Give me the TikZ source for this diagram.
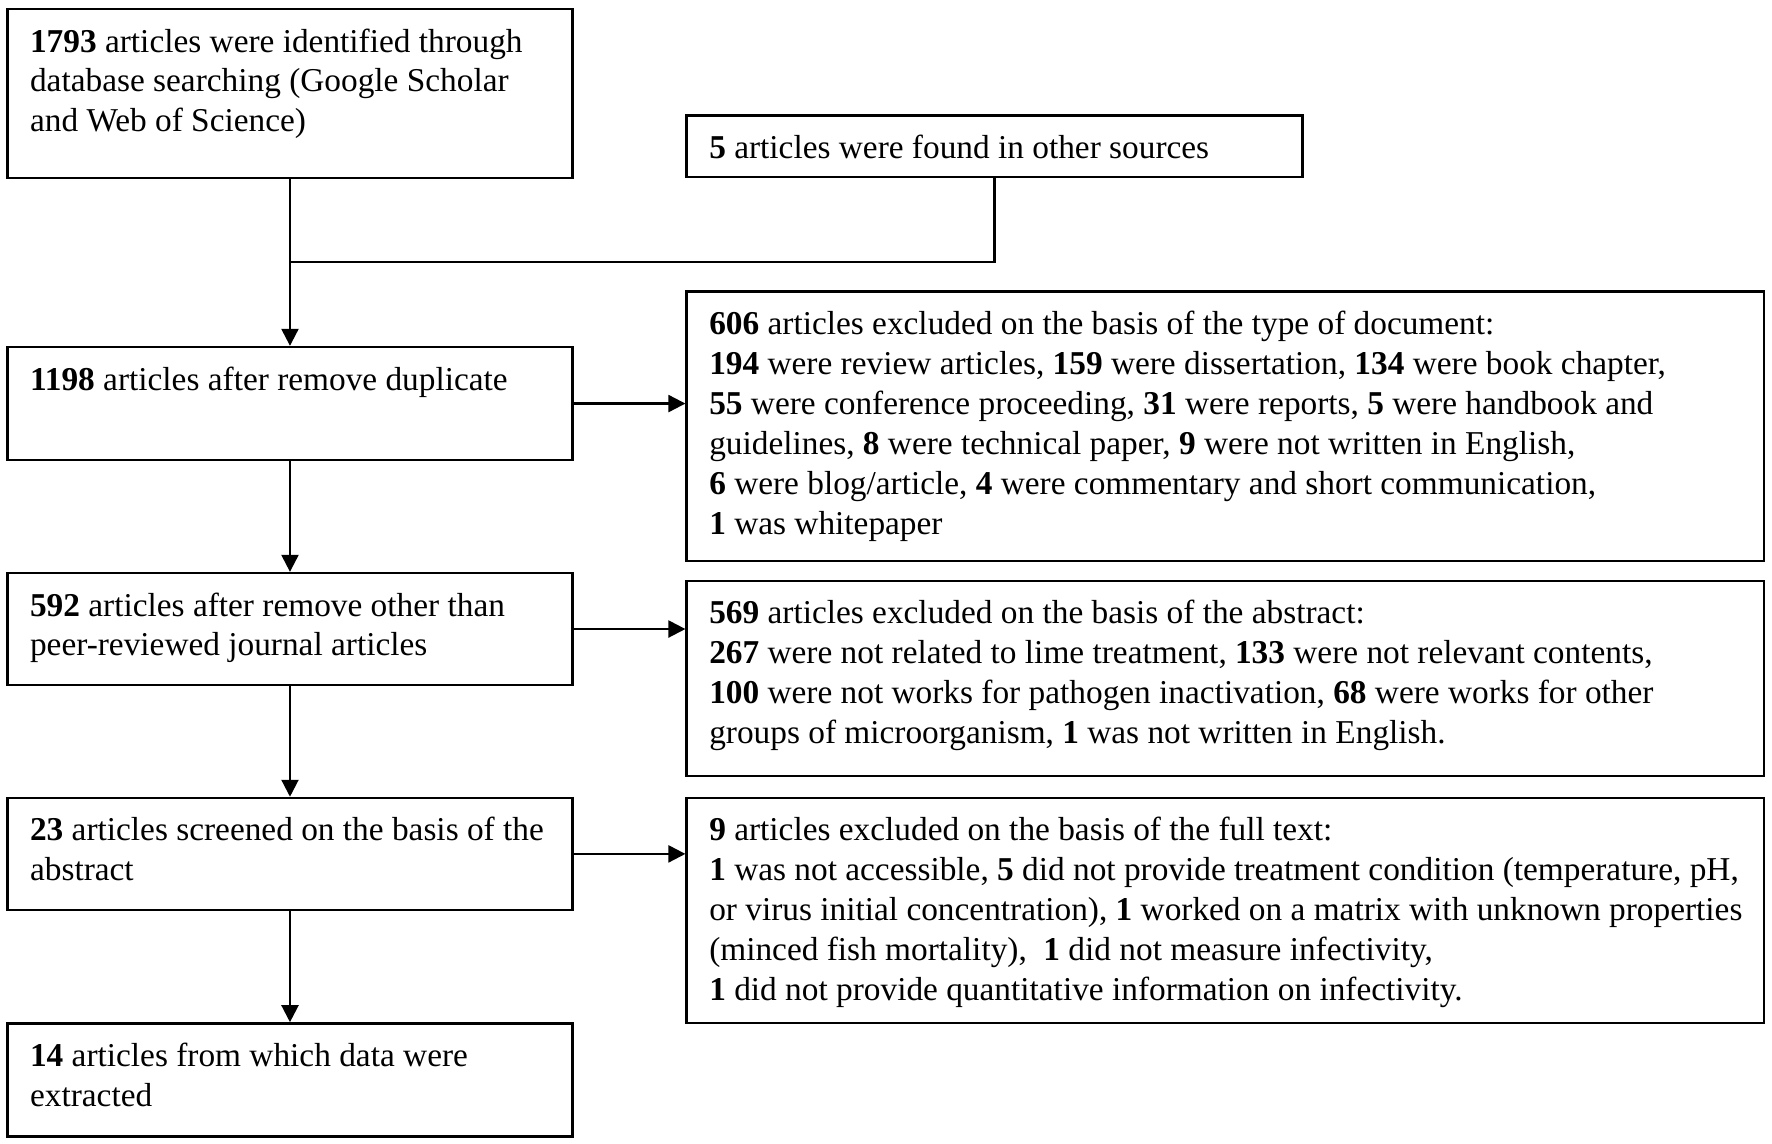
\documentclass[tikz,border=0pt]{standalone}
\usepackage{fontspec}
\setmainfont{Liberation Serif}
\usetikzlibrary{arrows.meta}
\tikzset{
  flowbox/.style={draw, line width=2.2pt, inner xsep=20pt, inner ysep=0pt,
    anchor=north west, font=\fontsize{29.5pt}{35.3pt}\selectfont},
  conn/.style={line width=2pt},
  arr/.style={conn, -{Triangle[length=15pt,width=15pt]}}
}
\newcommand{\btext}[3]{\parbox[c][#2][t]{#1}{\raggedright\hfuzz=200pt\rule{0pt}{38pt}#3}}
\begin{document}
\begin{tikzpicture}[x=1pt,y=-1pt]
\useasboundingbox (0,0) rectangle (1568,1012);
% left column
\node[flowbox] (a) at (5.5,7) {\btext{460pt}{149.5pt}{%
\mbox{\textbf{1793} articles were identified through}\\
\mbox{database searching (Google Scholar}\\
\mbox{and Web of Science)}}};
\node[flowbox] (b) at (606.5,101) {\btext{505pt}{54.5pt}{%
\mbox{\textbf{5} articles were found in other sources}}};
\node[flowbox] (c) at (5.5,306) {\btext{460pt}{100pt}{%
\mbox{\textbf{1198} articles after remove duplicate}}};
\node[flowbox] (d) at (606.5,257) {\btext{913.5pt}{238.5pt}{%
\mbox{\textbf{606} articles excluded on the basis of the type of document:}\\
\mbox{\textbf{194} were review articles, \textbf{159} were dissertation, \textbf{134} were book chapter,}\\
\mbox{\textbf{55} were conference proceeding, \textbf{31} were reports, \textbf{5} were handbook and}\\
\mbox{guidelines, \textbf{8} were technical paper, \textbf{9} were not written in English,}\\
\mbox{\textbf{6} were blog/article, \textbf{4} were commentary and short communication,}\\
\mbox{\textbf{1} was whitepaper}}};
\node[flowbox] (e) at (5.5,506) {\btext{460pt}{99pt}{%
\mbox{\textbf{592} articles after remove other than}\\
\mbox{peer-reviewed journal articles}}};
\node[flowbox] (f) at (606.5,513) {\btext{913.5pt}{172.5pt}{%
\mbox{\textbf{569} articles excluded on the basis of the abstract:}\\
\mbox{\textbf{267} were not related to lime treatment, \textbf{133} were not relevant contents,}\\
\mbox{\textbf{100} were not works for pathogen inactivation, \textbf{68} were works for other}\\
\mbox{groups of microorganism, \textbf{1} was not written in English.}}};
\node[flowbox] (g) at (5.5,705) {\btext{460pt}{99pt}{%
\mbox{\textbf{23} articles screened on the basis of the}\\
\mbox{abstract}}};
\node[flowbox] (h) at (606.5,705) {\btext{913.5pt}{199pt}{%
\mbox{\textbf{9} articles excluded on the basis of the full text:}\\
\mbox{\textbf{1} was not accessible, \textbf{5} did not provide treatment condition (temperature, pH,}\\
\mbox{or virus initial concentration), \textbf{1} worked on a matrix with unknown properties}\\
\mbox{(minced fish mortality), \ \textbf{1} did not measure infectivity,}\\
\mbox{\textbf{1} did not provide quantitative information on infectivity.}}};
\node[flowbox] (i) at (5.5,904.5) {\btext{460pt}{100pt}{%
\mbox{\textbf{14} articles from which data were}\\
\mbox{extracted}}};
% connectors
\coordinate (m) at (a.south |- {(0,232)});
\draw[conn] (a.south) -- (m);
\draw[conn] (b.south) |- (m);
\draw[arr] (m) -- (c.north);
\draw[arr] (c.south) -- (e.north);
\draw[arr] (e.south) -- (g.north);
\draw[arr] (g.south) -- (i.north);
\draw[arr] (c.east) -- (c.east -| d.west);
\draw[arr] (e.east) -- (e.east -| f.west);
\draw[arr] (g.east) -- (g.east -| h.west);
\end{tikzpicture}
\end{document}
